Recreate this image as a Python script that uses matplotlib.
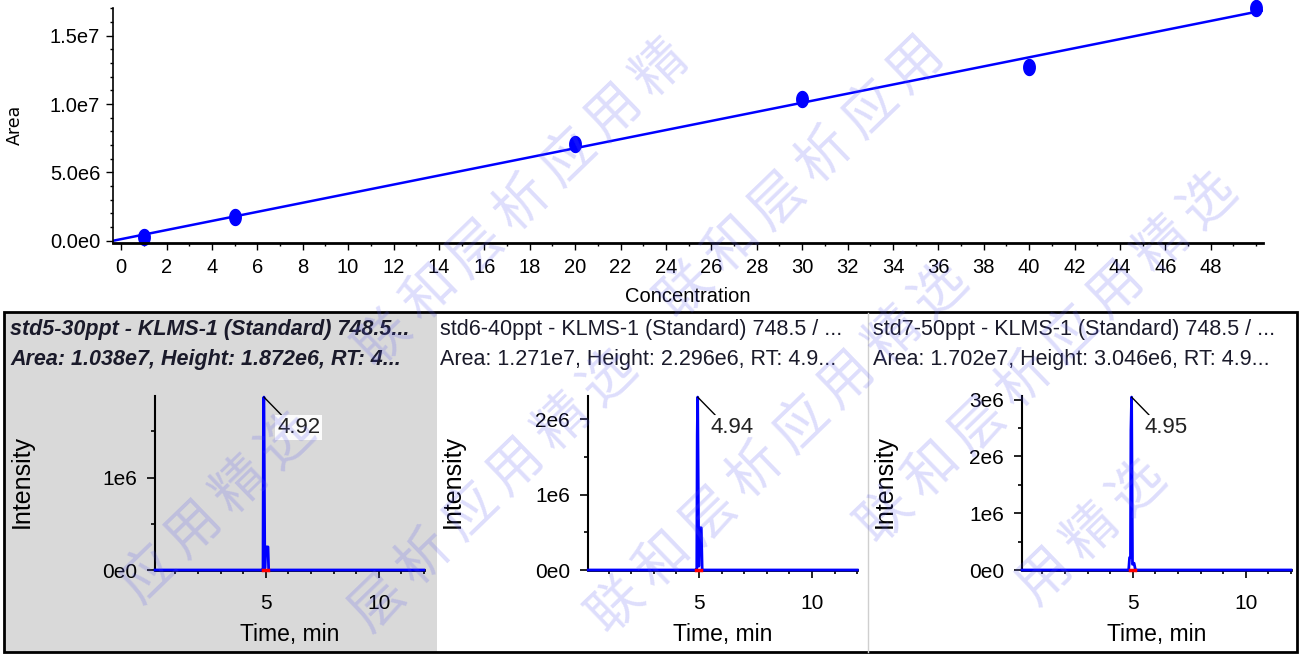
import numpy as np
import matplotlib
matplotlib.use("Agg")
import matplotlib.pyplot as plt
from matplotlib.patches import Rectangle
from matplotlib.lines import Line2D
from matplotlib.ticker import MultipleLocator, FixedLocator, FuncFormatter

W, H = 1299, 654

# calibration curve
conc = [1, 5, 20, 30, 40, 50]
area = [2.9e5, 1.75e6, 7.1e6, 1.038e7, 1.271e7, 1.702e7]

# chromatograms std5 / std6 / std7
names = ["std5-30ppt", "std6-40ppt", "std7-50ppt"]
peak_area = ["1.038e7", "1.271e7", "1.702e7"]
peak_height = [1.872e6, 2.296e6, 3.046e6]
peak_rt = [4.92, 4.94, 4.95]
time_1 = [0.1, 4.84, 4.88, 4.90, 4.92, 4.96, 5.00, 5.10, 5.13, 12.0]
inten_1 = [0, 0, 0, 1.80e6, 1.872e6, 0.02e6, 0.25e6, 0.25e6, 0, 0]
time_2 = [0.1, 4.86, 4.90, 4.92, 4.94, 4.99, 5.02, 5.10, 5.14, 12.0]
inten_2 = [0, 0, 0, 1.79e6, 2.296e6, 0.05e6, 0.56e6, 0.56e6, 0, 0]
time_3 = [0.1, 4.82, 4.86, 4.90, 4.92, 4.95, 4.99, 5.06, 5.12, 12.0]
inten_3 = [0, 0, 0.22e6, 0.22e6, 2.46e6, 3.046e6, 0.10e6, 0.12e6, 0, 0]
traces = [(time_1, inten_1), (time_2, inten_2), (time_3, inten_3)]

narrow = ["Liberation Sans Narrow", "Liberation Sans", "DejaVu Sans"]
arial = ["Liberation Sans", "DejaVu Sans"]
blue = "#0000ff"


def box(l, t, r, b):
    return [l / W, 1 - b / H, (r - l) / W, (b - t) / H]


fig = plt.figure(figsize=(W / 100, H / 100), dpi=100)

# ---- calibration plot ----
ax = fig.add_axes(box(112.7, 8, 1263, 242.7))
ax.set_xlim(-0.37, 50.3)
ax.set_ylim(-1.5e5, 1.703e7)
for s in ["top", "right"]:
    ax.spines[s].set_visible(False)
ax.spines["bottom"].set_linewidth(2)
ax.spines["left"].set_linewidth(1.2)

fit = np.polyfit(conc, area, 1)
xs = np.array(ax.get_xlim())
ax.plot(xs, np.polyval(fit, xs), color=blue, lw=1.8)
t = np.linspace(0, 2 * np.pi, 40)
ellipse = list(zip(0.72 * np.cos(t), np.sin(t)))
ax.plot(conc, area, ls="none", marker=ellipse, ms=11.5, color=blue, clip_on=False)

ax.xaxis.set_major_locator(FixedLocator(np.arange(0, 49, 2)))
ax.xaxis.set_minor_locator(MultipleLocator(1))
ax.yaxis.set_major_locator(FixedLocator([0, 5e6, 1e7, 1.5e7]))
ax.yaxis.set_minor_locator(MultipleLocator(1e6))


def sci1(v, pos):
    if v == 0:
        return "0.0e0"
    e = int(np.floor(np.log10(v)))
    return f"{v / 10 ** e:.1f}e{e}"


ax.yaxis.set_major_formatter(FuncFormatter(sci1))
ax.tick_params(which="major", length=5, width=1, pad=4)
ax.tick_params(which="minor", length=2.5, width=1)
ax.tick_params(axis="x", which="major", pad=6)
for lab in ax.get_xticklabels() + ax.get_yticklabels():
    lab.set_family(narrow)
    lab.set_fontsize(14.5)

ax.set_xlabel("Concentration", family=narrow, fontsize=14.5)
ax.xaxis.set_label_coords(0.5, -(296 - 242.7) / 234.7)
ax.xaxis.label.set_va("center")
ax.set_ylabel("Area", family="DejaVu Sans", fontsize=12.5)
ax.yaxis.set_label_coords((15 - 112.7) / 1150.3, (242.7 - 125) / 234.7)
ax.yaxis.label.set_va("center")

# ---- chromatogram panels ----
fig.patches.append(Rectangle((5 / W, 1 - 652 / H), (437 - 5) / W, (652 - 312) / H,
                             transform=fig.transFigure, fc="#d9d9d9", ec="none", zorder=-2))
fig.patches.append(Rectangle((4 / W, 1 - 652 / H), (1297 - 4) / W, (652 - 312) / H,
                             transform=fig.transFigure, fc="none", ec="black", lw=2, zorder=-1))
fig.lines.append(Line2D([868 / W, 868 / W], [1 - 652 / H, 1 - 313 / H],
                        transform=fig.transFigure, color="#cfcfcf", lw=1))

lefts = [155, 588.3, 1022]
text_x = [10, 440, 873]
label_x = [22, 453, 885]
for i in range(3):
    l = lefts[i]
    r = l + 268.9
    a = fig.add_axes(box(l, 395.7, r, 570))
    a.set_facecolor("none")
    a.set_xlim(0.1, 12)
    a.set_ylim(0, peak_height[i] * 1.008)
    for s in ["top", "right"]:
        a.spines[s].set_visible(False)
    a.spines["bottom"].set_linewidth(2)
    a.spines["left"].set_linewidth(1.5)

    tt, ii = traces[i]
    a.plot(tt, ii, color=blue, lw=2, clip_on=False, zorder=3)
    a.plot([peak_rt[i] - 0.06, peak_rt[i] + 0.16], [0, 0], color="red", lw=2.5, zorder=4, clip_on=False)
    a.annotate(f"{peak_rt[i]:.2f}", xy=(peak_rt[i], peak_height[i]), xytext=(9.5, -14.5),
               textcoords="offset points", ha="left", va="top", fontsize=16, family=arial,
               color="#222222",
               bbox=dict(boxstyle="square,pad=0.1", fc="white", ec="none", alpha=0.9),
               arrowprops=dict(arrowstyle="-", color="black", lw=1, shrinkA=0, shrinkB=0,
                               relpos=(0.15, 1)))

    a.xaxis.set_major_locator(FixedLocator([5, 10]))
    a.xaxis.set_minor_locator(MultipleLocator(1))
    a.yaxis.set_major_locator(MultipleLocator(1e6))
    a.yaxis.set_minor_locator(MultipleLocator(5e5))
    a.yaxis.set_major_formatter(FuncFormatter(lambda v, p: "0e0" if v == 0 else f"{int(round(v / 1e6))}e6"))
    a.tick_params(which="major", length=6, width=1.2)
    a.tick_params(which="minor", length=3, width=1.2)
    a.tick_params(axis="y", which="major", pad=7)
    a.tick_params(axis="x", which="major", pad=11)
    for lab in a.get_xticklabels() + a.get_yticklabels():
        lab.set_family(arial)
        lab.set_fontsize(15)

    a.set_ylabel("Intensity", family=arial, fontsize=18)
    a.yaxis.set_label_coords((label_x[i] - l) / 268.9, (570 - 482) / 174.3)
    a.yaxis.label.set_va("center")
    a.set_xlabel("Time, min", family=arial, fontsize=16.5)
    a.xaxis.set_label_coords(0.5, (570 - 635) / 174.3)
    a.xaxis.label.set_va("center")

    if i == 0:
        head1 = f"{names[i]} - KLMS-1 (Standard) 748.5..."
        head2 = f"Area: {peak_area[i]}, Height: {peak_height[i]:.3e}".replace("e+0", "e") + ", RT: 4..."
        kw = dict(fontweight="bold", style="italic")
    else:
        head1 = f"{names[i]} - KLMS-1 (Standard) 748.5 / ..."
        head2 = f"Area: {peak_area[i]}, Height: {peak_height[i]:.3e}".replace("e+0", "e") + ", RT: 4.9..."
        kw = {}
    fig.text(text_x[i] / W, 1 - 330 / H, head1, va="center", ha="left", fontsize=15.5,
             family=arial, color="#1a1a2a", **kw)
    fig.text(text_x[i] / W, 1 - 360 / H, head2, va="center", ha="left", fontsize=15.5,
             family=arial, color="#1a1a2a", **kw)

# ---- watermark ----
mark = "联和层析应用精选"
chain_start = [(-36, 755), (286, 692), (384, 338), (686, 290), (617, 605),
               (886, 515), (815, 802), (1128, 762), (472, 942)]
step = (46, -45)
half = 36
for x0, y0 in chain_start:
    for k, ch in enumerate(mark):
        px = x0 + k * step[0]
        py = y0 + k * step[1]
        if half < px < W - half and half < py < H - half:
            fig.text(px / W, 1 - py / H, ch, family=["Noto Sans CJK SC", "DejaVu Sans"],
                     fontsize=39, rotation=44, ha="center", va="center",
                     color=(0.35, 0.35, 0.95), alpha=0.2, zorder=10)

fig.savefig("out.png", dpi=100)
